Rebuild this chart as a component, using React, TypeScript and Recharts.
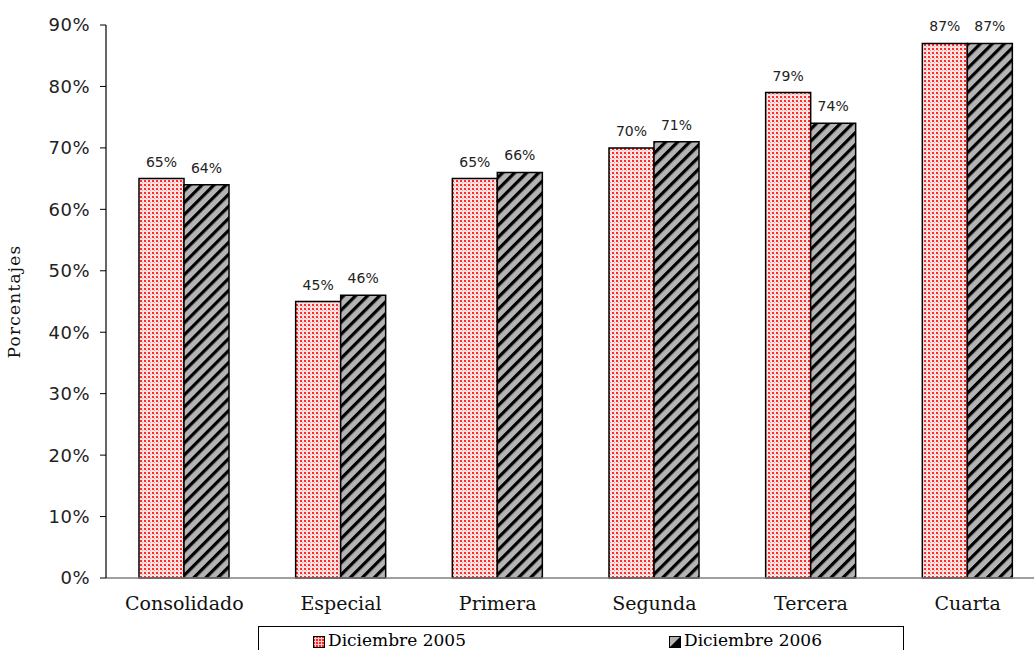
import React from 'react';
import { BarChart, Bar, XAxis, YAxis, LabelList, Label } from 'recharts';

const categories = ['Consolidado', 'Especial', 'Primera', 'Segunda', 'Tercera', 'Cuarta'];
const dic2005 = [65, 45, 65, 70, 79, 87];
const dic2006 = [64, 46, 66, 71, 74, 87];
const yTicks = [0, 10, 20, 30, 40, 50, 60, 70, 80, 90];

const chartData = categories.map((name, i) => ({
  name,
  d2005: dic2005[i],
  d2006: dic2006[i],
}));

const SERIF = '"DejaVu Serif", serif';
const SANS = '"DejaVu Sans", sans-serif';

const pct = (v: any) => `${v}%`;

// Small swatches for the hand-drawn legend box
const DotSwatch = () => (
  <svg width={12} height={12} style={{ verticalAlign: 'middle', marginRight: 3 }}>
    <rect x={0.5} y={0.5} width={11} height={11} fill="url(#dotsLegend)" stroke="#000" />
    <defs>
      <pattern id="dotsLegend" width={3} height={3} patternUnits="userSpaceOnUse">
        <rect width={3} height={3} fill="#ffd0d0" />
        <rect width={2} height={2} fill="#ff2020" />
      </pattern>
    </defs>
  </svg>
);

const HatchSwatch = () => (
  <svg width={12} height={12} style={{ verticalAlign: 'middle', marginRight: 3 }}>
    <rect x={0.5} y={0.5} width={11} height={11} fill="#b4b4b4" stroke="#000" />
    <polygon points="1,11 11,1 11,11" fill="#000" />
  </svg>
);

const App: React.FC = () => {
  return (
    <div style={styles.page}>
      <BarChart
        width={1050}
        height={650}
        data={chartData}
        margin={{ top: 25, right: 4, left: 0, bottom: 0 }}
        barCategoryGap={33}
        barGap={0}
      >
        <defs>
          <pattern id="dots2005" width={4} height={4} patternUnits="userSpaceOnUse">
            <rect width={4} height={4} fill="#ffe4e4" />
            <rect x={0} y={0} width={2} height={2} fill="#ff2a2a" />
            <rect x={2} y={2} width={1} height={1} fill="#ff9a9a" />
          </pattern>
          <pattern
            id="hatch2006"
            width={8.5}
            height={8.5}
            patternUnits="userSpaceOnUse"
            patternTransform="rotate(45)"
          >
            <rect width={8.5} height={8.5} fill="#b4b4b4" />
            <rect x={0} y={0} width={3.2} height={8.5} fill="#000" />
          </pattern>
        </defs>

        <XAxis
          dataKey="name"
          height={72}
          tickLine={false}
          axisLine={{ stroke: '#808080', strokeWidth: 1.5 }}
          tick={{ fontSize: 19, fill: '#111', fontFamily: SERIF }}
          tickMargin={13}
          interval={0}
        />
        <YAxis
          width={106}
          domain={[0, 90]}
          ticks={yTicks}
          tickFormatter={pct}
          axisLine={{ stroke: '#000', strokeWidth: 1.2 }}
          tickLine={{ stroke: '#000' }}
          tickSize={6}
          tick={{ fontSize: 18, fill: '#222', fontFamily: SANS, letterSpacing: 0.5 }}
          tickMargin={10}
        >
          <Label
            value="Porcentajes"
            angle={-90}
            position="insideLeft"
            offset={14}
            style={{ fontSize: 17, fill: '#111', fontFamily: SERIF, textAnchor: 'middle', letterSpacing: 1.2 }}
          />
        </YAxis>

        <Bar dataKey="d2005" fill="url(#dots2005)" stroke="#000" strokeWidth={1.5} isAnimationActive={false}>
          <LabelList
            dataKey="d2005"
            position="top"
            offset={12}
            formatter={pct}
            style={{ fontSize: 14, fill: '#222', fontFamily: SANS }}
          />
        </Bar>
        <Bar dataKey="d2006" fill="url(#hatch2006)" stroke="#000" strokeWidth={1.5} isAnimationActive={false}>
          <LabelList
            dataKey="d2006"
            position="top"
            offset={12}
            formatter={pct}
            style={{ fontSize: 14, fill: '#222', fontFamily: SANS }}
          />
        </Bar>
      </BarChart>

      {/* Legend box, as in the original spreadsheet chart */}
      <div style={styles.legend}>
        <div style={{ ...styles.legendItem, left: 54 }}>
          <DotSwatch />
          <span>Diciembre 2005</span>
        </div>
        <div style={{ ...styles.legendItem, left: 410 }}>
          <HatchSwatch />
          <span>Diciembre 2006</span>
        </div>
      </div>
    </div>
  );
};

const styles: Record<string, React.CSSProperties> = {
  page: {
    position: 'absolute',
    left: 0,
    top: 0,
    width: 1034,
    height: 650,
    overflow: 'hidden',
    background: '#fff',
  },
  legend: {
    position: 'absolute',
    left: 258,
    top: 626,
    width: 646,
    height: 40,
    border: '1px solid #000',
    boxSizing: 'border-box',
  },
  legendItem: {
    position: 'absolute',
    top: 2,
    fontSize: 17,
    fontFamily: SERIF,
    color: '#000',
    whiteSpace: 'nowrap',
    lineHeight: '22px',
  },
};

export default App;
